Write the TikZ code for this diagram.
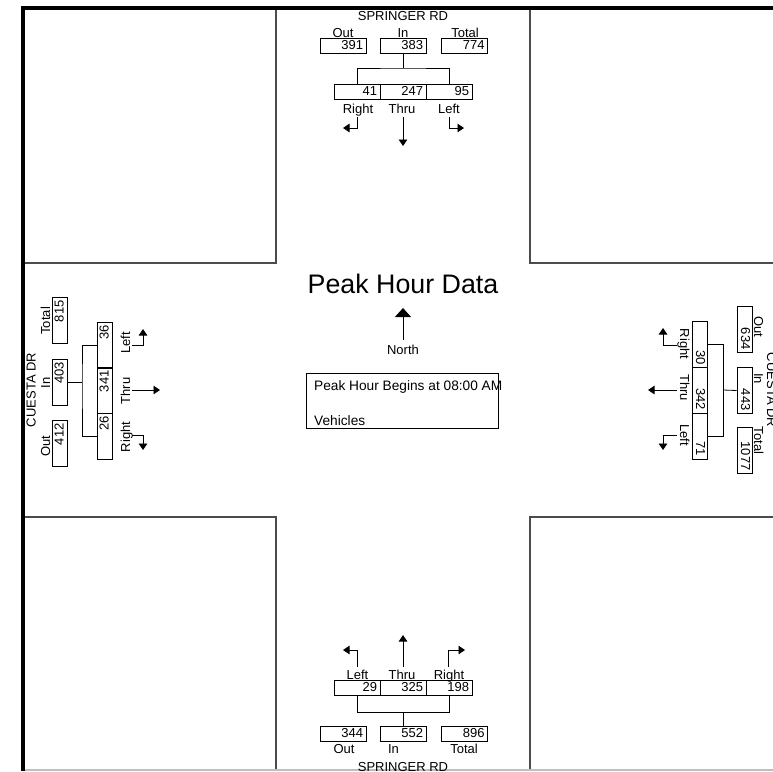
\documentclass[tikz,border=0pt]{standalone}
\usepackage{fontspec}
\setmainfont{Liberation Sans}
\usetikzlibrary{arrows.meta, positioning}
\newcommand{\lblfont}{\fontsize{13}{15}\selectfont}
\newcommand{\infofont}{\fontsize{13.7}{16}\selectfont}
\newcommand{\titlefont}{\fontsize{26.8}{30}\selectfont}

\begin{document}
\begin{tikzpicture}[
  x=1pt, y=-1pt,
  cnt/.style={draw, line width=0.8pt, minimum height=15pt, text width=40pt, align=right, inner xsep=3pt, inner ysep=0pt, text height=9.5pt, text depth=2.5pt, font=\lblfont},
  lbl/.style={inner sep=0pt, font=\lblfont, anchor=base},
  blk/.style={draw=black!70, line width=1.3pt},
  brk/.style={line width=0.8pt},
  mv/.style={-{Triangle[length=6.5pt, width=8.5pt]}, line width=0.8pt}
]
\useasboundingbox (0,0) rectangle (773,771);

% corner blocks and frame
\draw[blk] (276,8) -- (276,263) -- (22,263);
\draw[blk] (530,8) -- (530,263) -- (773,263);
\draw[blk] (22,517) -- (276,517) -- (276,771);
\draw[blk] (773,517) -- (530,517) -- (530,771);
\draw[black!25, line width=1.5pt] (22,770) -- (773,770);
\draw[line width=4pt] (22.8,771) -- (22.8,8) -- (773,8);

% north approach
\node[lbl] (road-n) at (403,20) {SPRINGER RD};
\node[cnt] (out-n) at (343,46) {391};
\node[cnt] (in-n) at (403,46) {383};
\node[cnt] (tot-n) at (464.5,46) {774};
\node[lbl] (outl-n) at (343,37.3) {Out};
\node[lbl] (inl-n) at (403,37.3) {In};
\node[lbl] (totl-n) at (465,37.3) {Total};
\node[cnt] (rt-n) at (357,91.5) {41};
\node[cnt] (th-n) at (403,91.5) {247};
\node[cnt] (lt-n) at (449,91.5) {95};
\node[lbl] (rtl-n) at (358,113.3) {Right};
\node[lbl] (thl-n) at (402,113.3) {Thru};
\node[lbl] (ltl-n) at (449,113.3) {Left};
\coordinate (brk-n) at (403,68);
\draw[brk] (in-n.south) -- (brk-n);
\draw[brk] (rt-n.north) |- (brk-n) -| (lt-n.north);
\coordinate (rt-n-a) at (357,117);
\coordinate (rt-n-b) at (343,128);
\coordinate (th-n-a) at (403,117);
\coordinate (th-n-b) at (403,146);
\coordinate (lt-n-a) at (449,117);
\coordinate (lt-n-b) at (464,128);
\draw[mv] (rt-n-a) |- (rt-n-b);
\draw[mv] (th-n-a) -- (th-n-b);
\draw[mv] (lt-n-a) |- (lt-n-b);

% south approach
\coordinate (lt-s-a) at (357,667);
\coordinate (lt-s-b) at (343,650);
\coordinate (th-s-a) at (403,667);
\coordinate (th-s-b) at (403,635);
\coordinate (rt-s-a) at (448,667);
\coordinate (rt-s-b) at (465,650);
\draw[mv] (lt-s-a) |- (lt-s-b);
\draw[mv] (th-s-a) -- (th-s-b);
\draw[mv] (rt-s-a) |- (rt-s-b);
\node[lbl] (ltl-s) at (357.5,679) {Left};
\node[lbl] (thl-s) at (402,679) {Thru};
\node[lbl] (rtl-s) at (449,679) {Right};
\node[cnt] (lt-s) at (357,687.5) {29};
\node[cnt] (th-s) at (403,687.5) {325};
\node[cnt] (rt-s) at (449,687.5) {198};
\coordinate (brk-s) at (403,712);
\draw[brk] (lt-s.south) |- (brk-s) -| (rt-s.south);
\node[cnt] (out-s) at (343,733.5) {344};
\node[cnt] (in-s) at (403,733.5) {552};
\node[cnt] (tot-s) at (464.5,733.5) {896};
\draw[brk] (brk-s) -- (in-s.north);
\node[lbl] (outl-s) at (344,753.3) {Out};
\node[lbl] (inl-s) at (393.5,753.3) {In};
\node[lbl] (totl-s) at (464,753.3) {Total};
\node[lbl] (road-s) at (403,771) {SPRINGER RD};

% west approach
\node[lbl, rotate=90] (road-w) at (35.7,390) {CUESTA DR};
\node[cnt, rotate=90] (tot-w) at (60,320.5) {815};
\node[cnt, rotate=90] (in-w) at (60,382) {403};
\node[cnt, rotate=90] (out-w) at (60,443.5) {412};
\node[lbl, rotate=90] (totl-w) at (50,320.8) {Total};
\node[lbl, rotate=90] (inl-w) at (50,383) {In};
\node[lbl, rotate=90] (outl-w) at (50,446) {Out};
\node[cnt, rotate=90] (lt-w) at (105,345) {36};
\node[cnt, rotate=90] (th-w) at (105,390.5) {341};
\node[cnt, rotate=90] (rt-w) at (105,436) {26};
\node[lbl, rotate=90] (ltl-w) at (130,343) {Left};
\node[lbl, rotate=90] (thl-w) at (130,391) {Thru};
\node[lbl, rotate=90] (rtl-w) at (130,437) {Right};
\coordinate (brk-w) at (82,382);
\draw[brk] (in-w.south) -- (brk-w);
\draw[brk] (lt-w.north) -| (brk-w) |- (rt-w.north);
\coordinate (lt-w-a) at (132,345);
\coordinate (lt-w-b) at (143,329);
\coordinate (th-w-a) at (132,390);
\coordinate (th-w-b) at (160,390);
\coordinate (rt-w-a) at (132,435);
\coordinate (rt-w-b) at (143,450);
\draw[mv] (lt-w-a) -| (lt-w-b);
\draw[mv] (th-w-a) -- (th-w-b);
\draw[mv] (rt-w-a) -| (rt-w-b);

% east approach
\node[lbl, rotate=-90] (road-e) at (767,390) {CUESTA DR};
\node[cnt, rotate=-90] (out-e) at (744.5,329.5) {634};
\node[cnt, rotate=-90] (in-e) at (744.5,390.5) {443};
\node[cnt, rotate=-90] (tot-e) at (744.5,450.5) {1077};
\node[lbl, rotate=-90] (outl-e) at (754,327) {Out};
\node[lbl, rotate=-90] (inl-e) at (754,378.5) {In};
\node[lbl, rotate=-90] (totl-e) at (754,440.5) {Total};
\node[cnt, rotate=-90] (rt-e) at (699.5,344.5) {30};
\node[cnt, rotate=-90] (th-e) at (699.5,390) {342};
\node[cnt, rotate=-90] (lt-e) at (699.5,436) {71};
\node[lbl, rotate=-90] (rtl-e) at (680,344) {Right};
\node[lbl, rotate=-90] (thl-e) at (680,387.5) {Thru};
\node[lbl, rotate=-90] (ltl-e) at (680,435) {Left};
\coordinate (brk-e) at (723,390);
\draw[brk] (in-e.south) -- (brk-e);
\draw[brk] (rt-e.north) -| (brk-e) |- (lt-e.north);
\coordinate (rt-e-a) at (677,345);
\coordinate (rt-e-b) at (663,328);
\coordinate (th-e-a) at (677,390);
\coordinate (th-e-b) at (648,390);
\coordinate (lt-e-a) at (677,435);
\coordinate (lt-e-b) at (663,450);
\draw[mv] (rt-e-a) -| (rt-e-b);
\draw[mv] (th-e-a) -- (th-e-b);
\draw[mv] (lt-e-a) -| (lt-e-b);

% centre
\node[inner sep=0pt, font=\titlefont, anchor=base] (title) at (403,293) {Peak Hour Data};
\coordinate (north-a) at (403,340);
\coordinate (north-b) at (403,308);
\draw[line width=0.8pt, -{Triangle[length=9pt, width=16pt]}] (north-a) -- (north-b);
\node[lbl] (north) at (403,354) {North};
\node[draw, line width=0.8pt, minimum width=192pt, minimum height=55pt, inner sep=0pt] (info) at (402,400.5) {};
\node[lbl, font=\infofont, anchor=base west] (begins) at (314,390) {Peak Hour Begins at 08:00 AM};
\node[lbl, font=\infofont, anchor=base west] (units) at (314,425) {Vehicles};
\end{tikzpicture}
\end{document}
